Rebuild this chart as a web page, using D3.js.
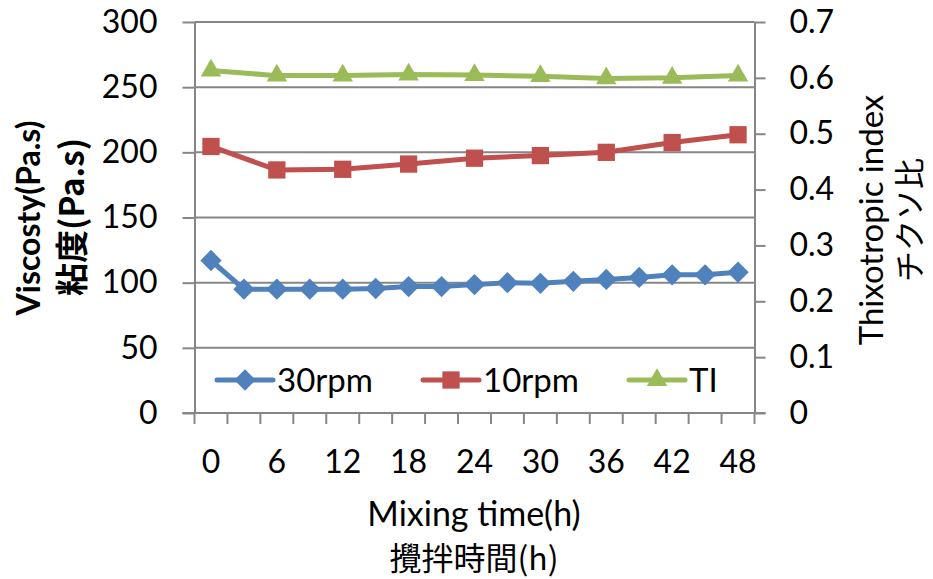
<!DOCTYPE html>
<html>
<head>
<meta charset="utf-8">
<script src="https://cdn.jsdelivr.net/npm/d3@7"></script>
<style>
  html, body { margin: 0; padding: 0; background: #fff; }
  svg { display: block; }
  text { font-family: Lato, "Noto Sans CJK JP", sans-serif; fill: #000; }
  .jp { font-family: "Noto Sans CJK JP", Lato, sans-serif; }
</style>
</head>
<body>
<svg id="chart" width="933" height="579"></svg>
<script>
// Sampling times (h) – one category every 3 hours
const times = [0, 3, 6, 9, 12, 15, 18, 21, 24, 27, 30, 33, 36, 39, 42, 45, 48];
// Times at which the 10 rpm viscosity and the thixotropic index were measured
const times6 = [0, 6, 12, 18, 24, 30, 36, 42, 48];

// Viscosity at 30 rpm (Pa.s)
const rpm30 = [117, 95, 95, 95, 95, 95.5, 97, 97, 98.5, 100, 99.5, 101, 102.5, 104, 106, 106, 108];
// Viscosity at 10 rpm (Pa.s)
const rpm10 = [204.5, 186.5, 187, 191, 195.5, 197.5, 200, 207.5, 213.5];
// Thixotropic index
const ti = [0.613, 0.604, 0.604, 0.606, 0.605, 0.603, 0.599, 0.600, 0.604];

// Axis tick values and labels
const leftTicks = [0, 50, 100, 150, 200, 250, 300];
const rightTicks = [0, 0.1, 0.2, 0.3, 0.4, 0.5, 0.6, 0.7];
const xLabelTimes = [0, 6, 12, 18, 24, 30, 36, 42, 48];

const seriesNames = ["30rpm", "10rpm", "TI"];
const colors = { "30rpm": "#4F81BD", "10rpm": "#C0504D", "TI": "#9BBB59" };

const svg = d3.select("#chart");
const plot = { left: 194.5, right: 754.5, top: 22, bottom: 413 };
const axisColor = "#868686";
const tickFont = 32;

const x = d3.scaleBand().domain(times).range([plot.left, plot.right]).padding(0);
const xc = t => x(t) + x.bandwidth() / 2;
const yL = d3.scaleLinear().domain([0, 300]).range([plot.bottom, plot.top]);
const yR = d3.scaleLinear().domain([0, 0.7]).range([plot.bottom, plot.top]);

// Horizontal gridlines
svg.append("g")
  .selectAll("line")
  .data(leftTicks.filter(v => v > 0))
  .join("line")
  .attr("x1", plot.left).attr("x2", plot.right)
  .attr("y1", d => yL(d)).attr("y2", d => yL(d))
  .attr("stroke", axisColor).attr("stroke-width", 2);

// Left axis
const gL = svg.append("g").attr("transform", `translate(${plot.left},0)`)
  .call(d3.axisLeft(yL).tickValues(leftTicks).tickSize(12).tickPadding(25).tickSizeOuter(0));
gL.select(".domain").attr("stroke", axisColor).attr("stroke-width", 2);
gL.selectAll(".tick line").attr("stroke", axisColor).attr("stroke-width", 2);
gL.selectAll(".tick text").attr("font-family", "Lato, sans-serif").attr("font-size", tickFont).attr("fill", "#000");

// Right axis
const gR = svg.append("g").attr("transform", `translate(${plot.right},0)`)
  .call(d3.axisRight(yR).tickValues(rightTicks).tickSize(11).tickPadding(24).tickSizeOuter(0)
    .tickFormat(d => d === 0 ? "0" : d3.format(".1f")(d)));
gR.select(".domain").attr("stroke", axisColor).attr("stroke-width", 2);
gR.selectAll(".tick line").attr("stroke", axisColor).attr("stroke-width", 2);
gR.selectAll(".tick text").attr("font-family", "Lato, sans-serif").attr("font-size", tickFont).attr("fill", "#000");

// Bottom axis: tick marks on category boundaries, labels every 6 h
const boundaries = times.map(t => x(t)).concat([plot.right]);
const gB = svg.append("g");
gB.append("line")
  .attr("x1", plot.left - 12).attr("x2", plot.right + 11)
  .attr("y1", plot.bottom).attr("y2", plot.bottom)
  .attr("stroke", axisColor).attr("stroke-width", 2);
gB.selectAll("line.tk")
  .data(boundaries)
  .join("line").attr("class", "tk")
  .attr("x1", d => d).attr("x2", d => d)
  .attr("y1", plot.bottom).attr("y2", plot.bottom + 11)
  .attr("stroke", axisColor).attr("stroke-width", 2);
const gBL = svg.append("g").attr("transform", `translate(0,${plot.bottom})`)
  .call(d3.axisBottom(x).tickValues(xLabelTimes).tickSize(0).tickPadding(37));
gBL.select(".domain").remove();
gBL.selectAll(".tick text").attr("font-family", "Lato, sans-serif").attr("font-size", tickFont).attr("fill", "#000");

// Series lines
const line30 = d3.line().x((d, i) => xc(times[i])).y(d => yL(d));
const line10 = d3.line().x((d, i) => xc(times6[i])).y(d => yL(d));
const lineTI = d3.line().x((d, i) => xc(times6[i])).y(d => yR(d));

const sym = {
  "30rpm": d3.symbol().type(d3.symbolDiamond2).size(290),
  "10rpm": d3.symbol().type(d3.symbolSquare2).size(380),
  "TI": d3.symbol().type(d3.symbolTriangle2).size(300)
};

function drawSeries(name, data, xs, y, gen) {
  const g = svg.append("g");
  g.append("path").attr("d", gen(data))
    .attr("fill", "none").attr("stroke", colors[name])
    .attr("stroke-width", 5).attr("stroke-linejoin", "round").attr("stroke-linecap", "round");
  g.selectAll("path.m").data(data).join("path").attr("class", "m")
    .attr("d", sym[name]())
    .attr("transform", (d, i) => `translate(${xc(xs[i])},${y(d)})`)
    .attr("fill", colors[name]);
}
drawSeries("TI", ti, times6, yR, lineTI);
drawSeries("10rpm", rpm10, times6, yL, line10);
drawSeries("30rpm", rpm30, times, yL, line30);

// Legend
const legendX = [217, 423, 629];
const lg = svg.append("g").attr("transform", "translate(0,380)");
seriesNames.forEach((name, i) => {
  const x0 = legendX[i];
  lg.append("line").attr("x1", x0).attr("x2", x0 + 56).attr("y1", 0).attr("y2", 0)
    .attr("stroke", colors[name]).attr("stroke-width", 5).attr("stroke-linecap", "round");
  lg.append("path").attr("d", sym[name]()).attr("transform", `translate(${x0 + 28},0)`)
    .attr("fill", colors[name]);
  lg.append("text").attr("x", x0 + 60).attr("y", 0).attr("dy", "0.36em")
    .attr("font-size", 33).text(name);
});

// Axis titles
svg.append("text")
  .attr("transform", "translate(28,218) rotate(-90)")
  .attr("text-anchor", "middle").attr("dy", "0.36em")
  .attr("font-size", 32).attr("font-weight", "bold").text("Viscosty(Pa.s)");
svg.append("text").attr("class", "jp")
  .attr("transform", "translate(72,217) rotate(-90)")
  .attr("text-anchor", "middle").attr("dy", "0.36em")
  .attr("font-size", 33).attr("font-weight", "bold").text("粘度(Pa.s)");

svg.append("text")
  .attr("transform", "translate(871,220) rotate(-90)")
  .attr("text-anchor", "middle").attr("dy", "0.36em")
  .attr("font-size", 33).text("Thixotropic index");
svg.append("text").attr("class", "jp")
  .attr("transform", "translate(910,220) rotate(-90)")
  .attr("text-anchor", "middle").attr("dy", "0.36em")
  .attr("font-size", 31).text("チクソ比");

svg.append("text")
  .attr("x", 474).attr("y", 514).attr("dy", "0.36em")
  .attr("text-anchor", "middle").attr("font-size", 34).text("Mixing time(h)");
svg.append("text").attr("class", "jp")
  .attr("x", 474).attr("y", 558).attr("dy", "0.36em")
  .attr("text-anchor", "middle").attr("font-size", 32).text("攪拌時間(h)");
</script>
</body>
</html>
